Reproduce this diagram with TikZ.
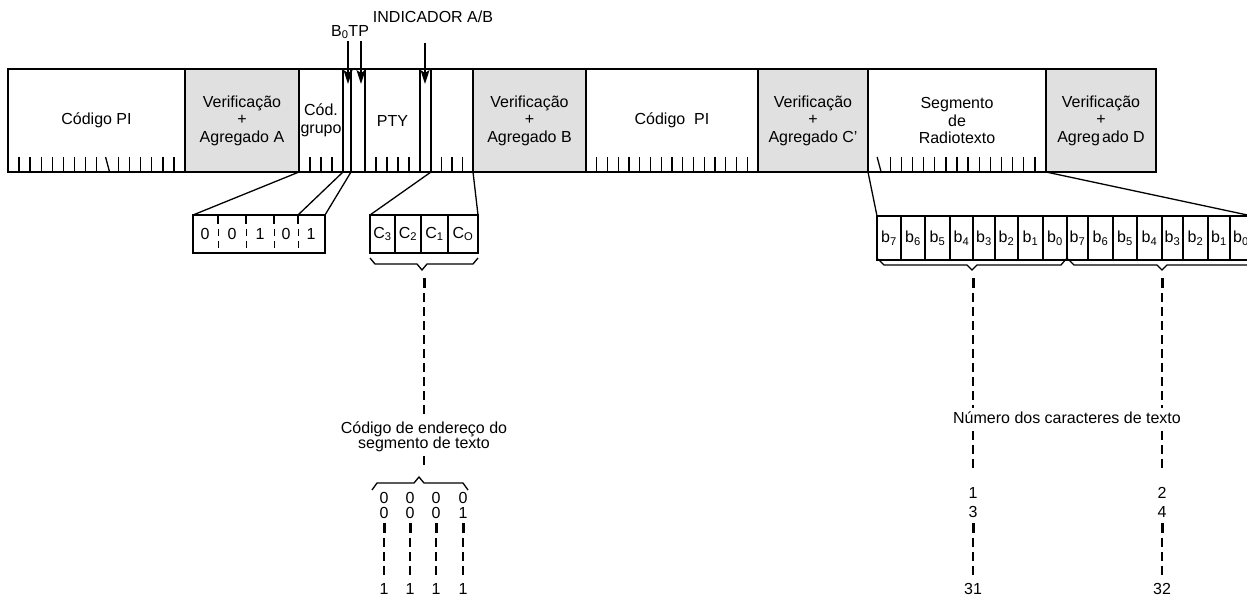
\documentclass[tikz,border=0pt]{standalone}
\usepackage{fontspec}
\setmainfont{Liberation Sans}
\usepackage{tikz}
\usetikzlibrary{arrows.meta}
\usetikzlibrary{calc}
\definecolor{chkgrey}{RGB}{224,224,224}

\begin{document}
\begin{tikzpicture}[x=1pt,y=-1pt,line width=1.3pt,
        font=\fontsize{16}{17.5}\selectfont,
        field/.style={draw,anchor=north west,inner sep=0pt,outer sep=0pt,minimum height=103pt,align=center},
        chk/.style={field,fill=chkgrey},
        bitcell/.style={draw,anchor=north west,inner sep=0pt,outer sep=0pt,minimum height=38pt},
        pointer/.style={-{Stealth[length=14pt,width=9pt,inset=3pt]},line width=1.5pt},
        lead/.style={dash pattern=on 9pt off 5pt,line width=1.2pt},
        leadtop/.style={line width=3pt}]
        \clip (0,0) rectangle (1247,596);

        % the group: blocks of the bar
        \node[field,minimum width=177pt] (pia) at (8,69) {Código PI};
        \node[chk,minimum width=114pt] (cka) at (pia.north east) {Verificação\\+\\Agregado A};
        \node[field,minimum width=44pt] (grp) at (cka.north east) {Cód.\\grupo};
        \node[field,minimum width=8pt] (bzero) at (grp.north east) {};
        \node[field,minimum width=14pt] (tp) at (bzero.north east) {};
        \node[field,minimum width=55pt] (pty) at (tp.north east) {PTY};
        \node[field,minimum width=11pt] (ab) at (pty.north east) {};
        \node[field,minimum width=42pt] (cadr) at (ab.north east) {};
        \node[chk,minimum width=113pt] (ckb) at (cadr.north east) {Verificação\\+\\Agregado B};
        \node[field,minimum width=172pt] (pib) at (ckb.north east) {Código~ PI};
        \node[chk,minimum width=110pt] (ckc) at (pib.north east) {Verificação\\+\\Agregado C'};
        \node[field,minimum width=178pt] (rt) at (ckc.north east) {Segmento\\de\\Radiotexto};
        \node[chk,minimum width=110pt] (ckd) at (rt.north east) {Verificação\\+\\Agreg\kern2pt ado D};

        % bit ticks
        \foreach \k in {1,...,8,10,11,...,15}
            \draw ($(pia.south west)!\k/16!(pia.south east)$) -- ++(0,-15);
        \draw ($(pia.south west)!9/16!(pia.south east)+(2,0)$) -- ++(-4,-15);
        \foreach \k in {1,2,3} {
            \draw ($(grp.south west)!\k/4!(grp.south east)$) -- ++(0,-15);
            \draw ($(cadr.south west)!\k/4!(cadr.south east)$) -- ++(0,-15);
        }
        \foreach \k in {1,...,4}
            \draw ($(pty.south west)!\k/5!(pty.south east)$) -- ++(0,-15);
        \foreach \k in {1,...,15}
            \draw ($(pib.south west)!\k/16!(pib.south east)$) -- ++(0,-15);
        \foreach \k in {2,...,15}
            \draw ($(rt.south west)!\k/16!(rt.south east)$) -- ++(0,-15);
        \draw ($(rt.south west)!1/16!(rt.south east)+(2,0)$) -- ++(-4,-15);

        % top labels
        \node (bztp) at (350,32) {B\textsubscript{0}TP};
        \node (ind) at (433,17) {INDICADOR A/B};
        \coordinate (bzsrc) at (348,41);
        \coordinate (tpsrc) at (361,41);
        \coordinate (absrc) at (425,43);
        \draw[pointer] (bzsrc) -- ($(bzsrc |- bzero.north)+(0,15)$);
        \draw[pointer] (tpsrc) -- ($(tpsrc |- tp.north)+(0,15)$);
        \draw[pointer] (absrc) -- ($(absrc |- ab.north)+(0,15)$);

        % group code bits
        \node[bitcell,minimum width=132pt] (grpbits) at (193,215) {};
        \foreach \x in {218,246,274,298} {
            \draw[line width=2.5pt] (\x,216) -- (\x,224);
            \draw[dash pattern=on 7pt off 5pt,line width=1pt] (\x,229) -- (\x,253);
        }
        \foreach \x/\d [count=\i] in {205/0,232/0,260/1,286/0,311/1}
            \node (g\i) at (\x,234) {\d};
        \coordinate (gsplit) at (298,215);
        \draw (cka.south east) -- (grpbits.north west);
        \draw (grp.south east) -- (gsplit);
        \draw (bzero.south east) -- (grpbits.north east);

        % text segment address bits
        \node[bitcell,minimum width=25pt] (c3) at (370,215) {C\textsubscript{3}};
        \node[bitcell,minimum width=26pt] (c2) at (c3.north east) {C\textsubscript{2}};
        \node[bitcell,minimum width=27pt] (c1) at (c2.north east) {C\textsubscript{1}};
        \node[bitcell,minimum width=30pt] (c0) at (c1.north east) {C\textsubscript{O}};
        \draw (ab.south east) -- (c3.north west);
        \draw (cadr.south east) -- (c0.north east);
        \draw (370,258) -- (375,264) -- (417,264) -- (422,270) -- (427,264) -- (473,264) -- (478,258);

        \node[align=center,font=\fontsize{16}{15}\selectfont] (addr) at (424,437) {Código de endereço do\\segmento de texto};
        \draw[leadtop] (424,278) -- (424,288);
        \draw[lead] (424,293) -- (addr.north);
        \draw[lead] (addr.south) -- (424,470);
        \draw (372,490) -- (377,483) -- (414,483) -- (419,477) -- (424,483) -- (463,483) -- (468,490);
        \foreach \x/\d [count=\i] in {384/0,410/0,436/0,463/1} {
            \node (ra\i) at (\x,498) {0};
            \node (rb\i) at (\x,513) {\d};
            \node (rz\i) at (\x,589) {1};
            \draw[leadtop] (\x,523) -- (\x,533);
            \draw[lead] (\x,538) -- (rz\i.north);
        }

        % radiotext bits
        \foreach \xa/\xb/\s [count=\i] in {877/901/7,901/925/6,925/950/5,950/973/4,973/995/3,995/1018/2,1018/1043/1,1043/1067/0,
                1067/1088/7,1088/1113/6,1113/1137/5,1137/1162/4,1162/1183/3,1183/1208/2,1208/1230/1,1230/1252/0}
            \node[bitcell,minimum width={\xb-\xa},minimum height=44pt] (bt\i) at (\xa,216) {b\textsubscript{\s}};
        \draw (rt.south west) -- (bt1.north west);
        \draw (rt.south east) -- (bt16.north east);
        \draw (878,259) -- (884,265) -- (967,265) -- (972,270) -- (977,265) -- (1061,265) -- (1066,259);
        \draw (1068,259) -- (1074,265) -- (1157,265) -- (1162,270) -- (1167,265) -- (1252,265);

        \node (chars) at (1067,418) {Número dos caracteres de texto};
        \foreach \x/\a/\b/\c [count=\i] in {973/1/3/31,1162/2/4/32} {
            \draw[leadtop] (\x,278) -- (\x,288);
            \draw[lead] (\x,293) -- (\x,408);
            \draw[lead] (\x,431) -- (\x,468);
            \node (na\i) at (\x,493) {\a};
            \node (nb\i) at (\x,512) {\b};
            \node (nz\i) at (\x,589) {\c};
            \draw[leadtop] (\x,523) -- (\x,533);
            \draw[lead] (\x,538) -- (nz\i.north);
        }
    \end{tikzpicture}
\end{document}
